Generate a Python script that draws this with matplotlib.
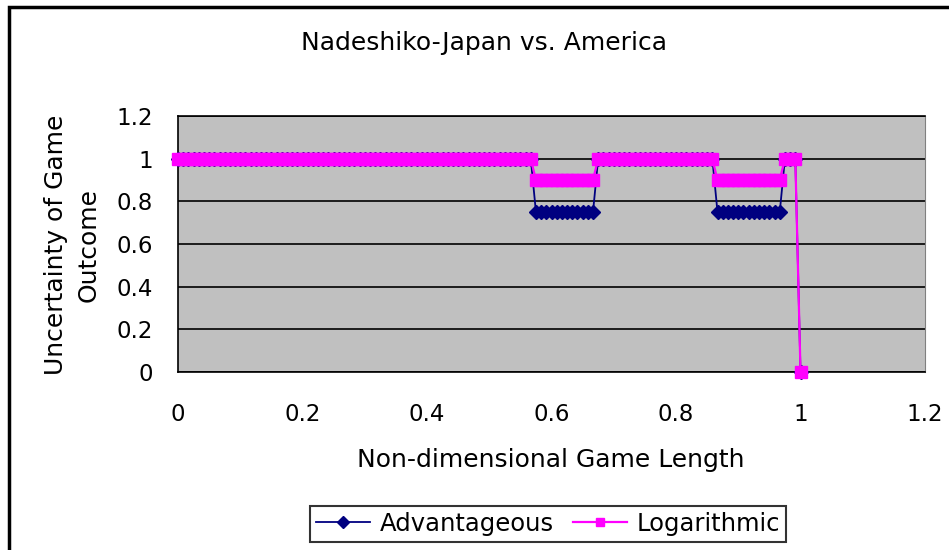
import matplotlib
matplotlib.use("Agg")
import matplotlib.pyplot as plt
from matplotlib.patches import Rectangle
from matplotlib.ticker import FuncFormatter

# game minutes (120 min incl. extra time), last point = after the penalty shoot-out
game_length = 120
minutes = list(range(0, 121))

# score state per minute: 0 = level, 1 = one goal behind/ahead
# level 0-68, USA ahead 69-80, level 81-103, USA ahead 104-116, level 117-119, decided at 120
advantageous = [1.0] * 69 + [0.75] * 12 + [1.0] * 23 + [0.75] * 13 + [1.0] * 3 + [0.0]
logarithmic = [1.0] * 69 + [0.9] * 12 + [1.0] * 23 + [0.9] * 13 + [1.0] * 3 + [0.0]

x = [m / game_length for m in minutes]

plt.rcParams['font.family'] = ['DejaVu Sans']
FS_TICK = 16.5
FS_TXT = 18

fig = plt.figure(figsize=(9.49, 5.5), dpi=100)
ax = fig.add_axes([178 / 949, 1 - 372 / 550, (925 - 178) / 949, (372 - 116) / 550])

# outer chart border (cropped on the right and bottom)
fig.patches.append(Rectangle((9 / 949, -0.1), 1.2, 1 - 7 / 550 + 0.1,
                             transform=fig.transFigure, fill=False,
                             edgecolor='black', linewidth=2.5))

ax.set_facecolor('#C0C0C0')
ax.plot(x, advantageous, color='#000080', lw=1.3, marker='D', ms=7.5,
        mfc='#000080', mec='#000080', label='Advantageous', clip_on=False, zorder=3)
ax.plot(x, logarithmic, color='#FF00FF', lw=1.6, marker='s', ms=8.2,
        mfc='#FF00FF', mec='#FF00FF', label='Logarithmic', clip_on=False, zorder=4)

ax.set_xlim(0, 1.2)
ax.set_ylim(0, 1.2)
ax.set_xticks([0, 0.2, 0.4, 0.6, 0.8, 1.0, 1.2])
ax.set_yticks([0, 0.2, 0.4, 0.6, 0.8, 1.0, 1.2])
fmt = FuncFormatter(lambda v, p: '{:g}'.format(round(v, 1)))
ax.xaxis.set_major_formatter(fmt)
ax.yaxis.set_major_formatter(fmt)
ax.tick_params(axis='both', length=0, labelsize=FS_TICK)
ax.tick_params(axis='x', pad=22)
ax.tick_params(axis='y', pad=18)
ax.grid(axis='y', color='black', lw=1.2, zorder=1)
ax.set_axisbelow(True)
for s in ['left', 'bottom', 'top']:
    ax.spines[s].set_color('black')
    ax.spines[s].set_linewidth(1.2)
ax.spines['right'].set_color('#808080')

fig.text(484 / 949, 1 - 43 / 550, 'Nadeshiko-Japan vs. America', ha='center', va='center', fontsize=FS_TXT)
fig.text(551 / 949, 1 - 460 / 550, 'Non-dimensional Game Length', ha='center', va='center', fontsize=FS_TXT)
fig.text(72 / 949, 1 - 245 / 550, 'Uncertainty of Game\nOutcome', ha='center', va='center',
         rotation=90, multialignment='center', fontsize=FS_TXT, linespacing=1.45)

leg = fig.legend(loc='center', bbox_to_anchor=(548 / 949, 1 - 524 / 550), ncol=2,
                 fontsize=17.5, frameon=True, fancybox=False, edgecolor='black',
                 handlelength=2.2, columnspacing=0.8, handletextpad=0.4,
                 borderpad=0.25, markerscale=0.75)
leg.get_frame().set_linewidth(1.5)

fig.savefig('out.png', dpi=100)
